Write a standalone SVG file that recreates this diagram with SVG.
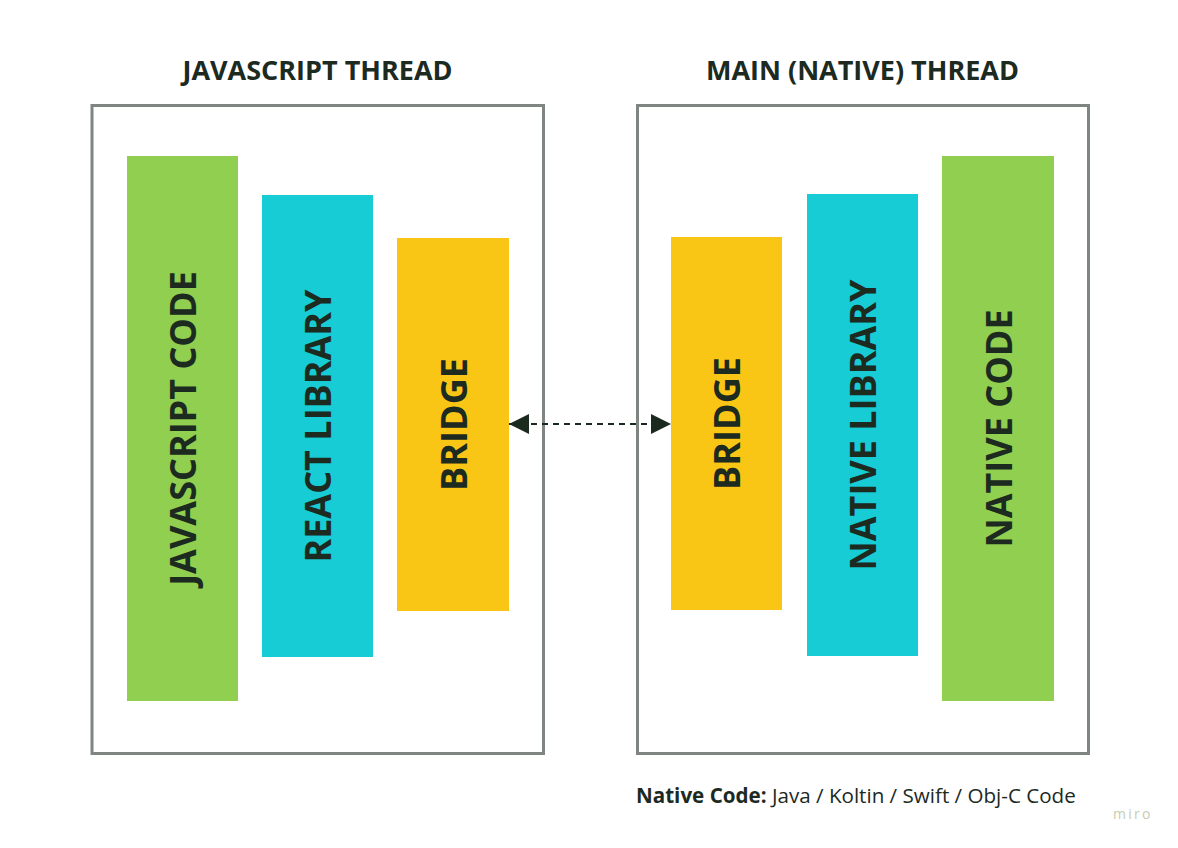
<svg xmlns="http://www.w3.org/2000/svg" width="1178" height="848" viewBox="0 0 1178 848">
<defs>
<style>
.frame{fill:none;stroke:#7f8580;stroke-width:3}
.title{font-family:"Open Sans","Liberation Sans",sans-serif;font-weight:700;font-size:27px;fill:#1c2a1f;text-anchor:middle}
.lbl{font-family:"Open Sans","Liberation Sans",sans-serif;font-weight:700;font-size:36px;fill:#1c2a1f;text-anchor:middle}
.green{fill:#90cf50}
.cyan{fill:#17ccd4}
.yellow{fill:#f9c616}
.note{font-family:"Open Sans","Liberation Sans",sans-serif;font-size:20.6px;fill:#1c2a1f}
</style>
<marker id="ah" viewBox="0 0 20 20" refX="20" refY="10" markerWidth="20" markerHeight="20" markerUnits="userSpaceOnUse" orient="auto-start-reverse">
<path d="M0,0 L20,10 L0,20 Z" fill="#1b2a1e"/>
</marker>
</defs>
<rect width="1178" height="848" fill="#ffffff"/>
<g id="js-thread">
<rect class="frame" x="92" y="105.5" width="451.5" height="648"/>
<text class="title" x="317.5" y="80">JAVASCRIPT THREAD</text>
</g>
<g id="native-thread">
<rect class="frame" x="637.5" y="105.5" width="451" height="648"/>
<text class="title" x="862.5" y="80">MAIN (NATIVE) THREAD</text>
</g>
<g id="javascript-code">
<rect class="green" x="127" y="156" width="111" height="545"/>
<text class="lbl" transform="translate(196,428.5) rotate(-90)">JAVASCRIPT CODE</text>
</g>
<g id="react-library">
<rect class="cyan" x="262" y="195" width="111" height="462"/>
<text class="lbl" transform="translate(331,426) rotate(-90)">REACT LIBRARY</text>
</g>
<g id="bridge-js">
<rect class="yellow" x="397" y="238" width="112" height="373"/>
<text class="lbl" transform="translate(466.5,424.5) rotate(-90)">BRIDGE</text>
</g>
<g id="bridge-native">
<rect class="yellow" x="671" y="237" width="111" height="373"/>
<text class="lbl" transform="translate(740,423.5) rotate(-90)">BRIDGE</text>
</g>
<g id="native-library">
<rect class="cyan" x="807" y="194" width="111" height="462"/>
<text class="lbl" transform="translate(876,425) rotate(-90)">NATIVE LIBRARY</text>
</g>
<g id="native-code">
<rect class="green" x="942" y="156" width="112" height="545"/>
<text class="lbl" transform="translate(1011.5,428.5) rotate(-90)">NATIVE CODE</text>
</g>
<g id="connectors">
<line x1="509" y1="424" x2="671" y2="424" stroke="#1b2a1e" stroke-width="2" stroke-dasharray="6 5" marker-start="url(#ah)" marker-end="url(#ah)"/>
</g>
<g id="note">
<text class="note" x="636" y="802.5"><tspan font-weight="700">Native Code:</tspan> Java / Koltin / Swift / Obj-C Code</text>
</g>
<text x="1113" y="818.5" font-family="'Open Sans','Liberation Sans',sans-serif" font-size="14" fill="#c6cdb4" letter-spacing="2.3">miro</text>
</svg>
